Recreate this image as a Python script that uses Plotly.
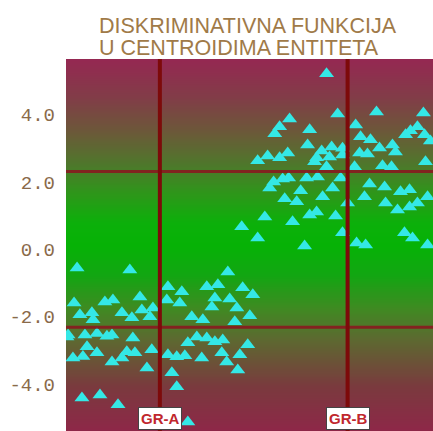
import numpy as np
import plotly.graph_objects as go

# ---- data (discriminant scores; x = within-group spread, y = function value) ----
group_names = ["GR-A", "GR-B"]
centroid_x = [0.0, 10.0]
centroid_y = [-2.31, 2.31]

gra_x = [-4.41, -1.60, -4.57, -2.93, -2.50, -1.06, -4.26, -3.62, -3.56, -2.02,
         -1.49, -0.96, -0.53, -0.37, -4.89, -3.99, -3.35, -2.82, -2.55, -1.44,
         -3.88, -4.63, -4.10, -3.35, -2.55, -2.02, -1.76, -1.33, -0.43, -0.69,
         -4.15, -3.19, -2.23, -4.95,
         3.62, 0.43, 1.17, 2.50, 3.09, 4.41, 0.37, 1.06, 2.93, 3.72,
         4.95, 2.77, 4.10, 1.70, 2.29, 4.79, 3.99, 1.97, 2.50, 1.49,
         2.93, 3.35, 4.68, 0.43, 0.90, 1.33, 2.23, 3.30, 3.56, 4.26,
         4.15, 0.64, 0.90, 1.49]
gra_y = [-0.55, -0.61, -1.59, -1.56, -1.50, -1.41, -1.94, -1.88, -2.09, -1.88,
         -2.03, -1.80, -2.00, -1.74, -2.54, -2.54, -2.50, -2.58, -2.54, -2.63,
         -2.89, -3.22, -3.18, -3.07, -3.34, -3.22, -3.04, -3.07, -2.98, -3.52,
         -4.41, -4.32, -4.61, -2.60,
         -0.67, -1.11, -1.26, -1.11, -1.05, -1.14, -1.50, -1.59, -1.44, -1.47,
         -1.35, -1.71, -1.74, -2.00, -2.09, -1.97, -2.15, -2.60, -2.63, -2.77,
         -2.74, -2.69, -2.83, -3.13, -3.19, -3.16, -3.22, -3.07, -3.34, -3.13,
         -3.58, -3.66, -4.08, -5.12]

grb_x = [8.88, 9.47, 11.54, 14.04, 6.91, 6.38, 6.12, 7.98, 10.43, 13.35,
         13.72, 14.10, 14.41, 13.09, 10.69, 11.22, 7.87, 8.62, 9.15, 9.73,
         11.70, 12.39, 12.55, 6.81, 6.38, 5.74, 5.21, 8.35, 9.04, 9.73,
         10.64, 11.06, 8.88, 10.37, 11.86, 12.34, 14.15, 8.24,
         6.06, 6.54, 6.86, 7.82, 8.40, 9.63, 9.20, 11.17, 11.97, 12.82,
         13.30, 14.26, 5.85, 7.50, 6.65, 7.29, 8.67, 10.90, 12.02, 12.66,
         13.30, 13.72, 10.00, 8.35, 7.98, 9.36, 5.59, 7.07, 4.36, 9.73,
         13.03, 5.21, 13.46, 7.71, 10.48, 10.96, 14.26]
grb_y = [5.21, 4.02, 4.08, 4.05, 3.87, 3.64, 3.43, 3.55, 3.69, 3.52,
         3.64, 3.40, 3.22, 3.40, 3.34, 3.25, 3.10, 2.92, 3.04, 3.00,
         3.01, 3.10, 2.89, 2.86, 2.72, 2.77, 2.63, 2.72, 2.74, 2.80,
         2.86, 2.83, 2.45, 2.45, 2.48, 2.45, 2.60, 2.60,
         2.00, 2.09, 2.12, 2.12, 2.15, 2.12, 1.82, 1.94, 1.85, 1.71,
         1.77, 1.56, 1.82, 1.74, 1.50, 1.41, 1.56, 1.56, 1.38, 1.17,
         1.26, 1.38, 1.38, 1.11, 1.02, 0.99, 0.96, 0.82, 0.67, 0.49,
         0.49, 0.34, 0.34, 0.10, 0.19, 0.13, 0.13]

y_ticks = [-4, -2, 0, 2, 4]
y_tick_text = ["-4.0", "-2.0", "0.0", "2.0", "4.0"]
title_lines = ["DISKRIMINATIVNA FUNKCIJA", "U CENTROIDIMA ENTITETA"]

x_range = [-5.0, 14.55]
y_range = [-5.39, 5.65]

# ---- background gradient (maroon -> green -> maroon) ----
grad_y = np.linspace(y_range[0], y_range[1], 120)
grad_z = [[v, v] for v in grad_y]
bg_scale = [
    [0.00, "#8e2748"],
    [0.12, "#7a3a3e"],
    [0.25, "#5c6a30"],
    [0.33, "#3f8a22"],
    [0.42, "#12a612"],
    [0.50, "#06b206"],
    [0.56, "#0cb00a"],
    [0.64, "#2e961a"],
    [0.71, "#4c7a2a"],
    [0.80, "#6a5a38"],
    [0.90, "#823c48"],
    [1.00, "#952852"],
]

fig = go.Figure()
fig.add_trace(go.Heatmap(
    x=x_range, y=grad_y, z=grad_z, colorscale=bg_scale, showscale=False,
    zsmooth="best", hoverinfo="skip"))

marker_style = dict(symbol="triangle-up", size=13, color="#34e8e6",
                    line=dict(width=0))
fig.add_trace(go.Scatter(x=gra_x, y=gra_y, mode="markers", name=group_names[0],
                         marker=marker_style, showlegend=False))
fig.add_trace(go.Scatter(x=grb_x, y=grb_y, mode="markers", name=group_names[1],
                         marker=marker_style, showlegend=False))

# centroid lines
for cy in centroid_y:
    fig.add_shape(type="line", xref="paper", yref="y", x0=0, x1=1, y0=cy, y1=cy,
                  line=dict(color="rgba(140,20,30,0.85)", width=3))
for cx in centroid_x:
    fig.add_shape(type="line", xref="x", yref="paper", x0=cx, x1=cx, y0=0, y1=1,
                  line=dict(color="#7d0a0a", width=4))

for name, cx in zip(group_names, centroid_x):
    fig.add_annotation(x=cx, xref="x", y=0.065, yref="paper", yanchor="top",
                       text="<b>%s</b>" % name, showarrow=False,
                       font=dict(family="Liberation Sans, Arial", size=15, color="#c0272d"),
                       bgcolor="white", bordercolor="#444", borderwidth=1, borderpad=2)

# two-line title
for line, ypos in zip(title_lines, [1.089, 1.030]):
    fig.add_annotation(x=0.0845, xref="paper", y=ypos, yref="paper",
                       xanchor="left", yanchor="middle", text=line, showarrow=False,
                       font=dict(family="Liberation Sans, Arial", size=21.5, color="#a07a48"))

fig.update_layout(
    width=433, height=431,
    margin=dict(l=66, r=0, t=59, b=0),
    paper_bgcolor="white", plot_bgcolor="white",
    xaxis=dict(range=x_range, showticklabels=False, showgrid=False, zeroline=False,
               ticks="", showline=False),
    yaxis=dict(range=y_range, tickvals=y_ticks, ticktext=y_tick_text, showgrid=False,
               zeroline=False, ticks="", showline=False, ticklabelstandoff=10,
               tickfont=dict(family="Liberation Mono, Courier New", size=19, color="#8a6a4a")),
)

fig.write_html("out.html", config={"displayModeBar": False},
               post_script="document.body.style.margin='0px';")
